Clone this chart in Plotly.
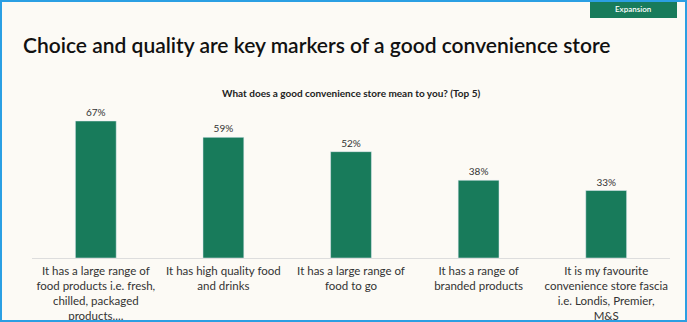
import plotly.graph_objects as go

categories = [
    "It has a large range of<br>food products i.e. fresh,<br>chilled, packaged<br>products....",
    "It has high quality food<br>and drinks",
    "It has a large range of<br>food to go",
    "It has a range of<br>branded products",
    "It is my favourite<br>convenience store fascia<br>i.e. Londis, Premier,<br>M&S",
]
values = [67, 59, 52, 38, 33]
value_labels = [f"{v}%" for v in values]

W, H = 687, 322
L, R, T, B = 32, 17, 100, 64
pw, ph = W - L - R, H - T - B

def px(x):
    return (x - L) / pw

def py(y):
    return (H - B - y) / ph

fig = go.Figure(go.Bar(
    x=list(range(len(categories))),
    y=values,
    text=value_labels,
    textposition="outside",
    textfont=dict(family="Lato", size=10, color="#333333"),
    marker=dict(color="#187b5b"),
    width=0.32,
    cliponaxis=False,
))

fig.update_layout(
    width=W, height=H,
    margin=dict(l=L, r=R, t=T, b=B, autoexpand=False),
    paper_bgcolor="#fcfaf5",
    plot_bgcolor="#fcfaf5",
    showlegend=False,
    xaxis=dict(
        tickmode="array",
        tickvals=list(range(len(categories))),
        ticktext=categories,
        range=[-0.5, 4.5],
        showline=True, linecolor="#dddddd", linewidth=1,
        showgrid=False, zeroline=False, ticks="",
        ticklabelstandoff=2,
        automargin=False,
        tickfont=dict(family="Lato", size=11.5, color="#333333"),
        fixedrange=True,
    ),
    yaxis=dict(
        range=[0, ph / 2.045],
        visible=False,
        showgrid=False, zeroline=False,
    ),
    shapes=[
        dict(type="rect", xref="paper", yref="paper",
             x0=px(590), x1=px(677), y0=py(0), y1=py(18),
             fillcolor="#187b5b", line=dict(width=0), layer="above"),
        dict(type="rect", xref="paper", yref="paper",
             x0=px(1), x1=px(W - 1), y0=py(1), y1=py(H - 1),
             fillcolor="rgba(0,0,0,0)", line=dict(color="#2b9fe3", width=2), layer="above"),
    ],
    annotations=[
        dict(text="Choice and quality are key markers of a good convenience store",
             xref="paper", yref="paper", x=px(21), y=py(45),
             xanchor="left", yanchor="middle", showarrow=False,
             font=dict(family="Lato", size=21, color="#111111", weight=600)),
        dict(text="<b>What does a good convenience store mean to you? (Top 5)</b>",
             xref="paper", yref="paper", x=px(351), y=py(93),
             xanchor="center", yanchor="middle", showarrow=False,
             font=dict(family="Lato", size=10, color="#222222")),
        dict(text="Expansion",
             xref="paper", yref="paper", x=px(633), y=py(9),
             xanchor="center", yanchor="middle", showarrow=False,
             font=dict(family="Lato", size=8, color="#ffffff", weight=600)),
    ],
)

fig.write_html("out.html")
